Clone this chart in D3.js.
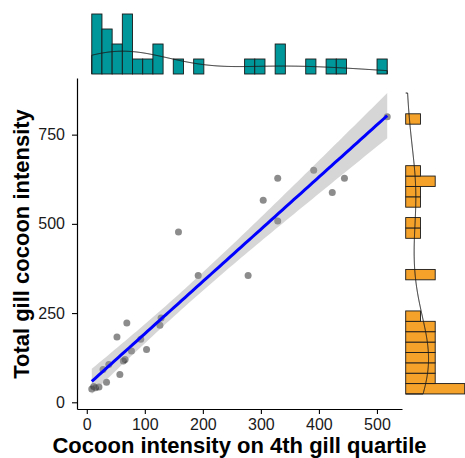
<!DOCTYPE html>
<html>
<head>
<meta charset="utf-8">
<script src="https://cdn.jsdelivr.net/npm/d3@7"></script>
<style>
  body { margin: 0; background: #fff; }
  text { font-family: "Liberation Sans", Arial, sans-serif; }
</style>
</head>
<body>
<svg id="chart" width="465" height="458"></svg>
<script>
// values, one entry per fish
const quartileIntensity = [8.6, 12, 15, 21, 28, 34, 38, 52, 57, 63, 66, 69, 77, 93, 103, 126, 128,
                           158, 192, 278, 304, 329, 329, 391, 423, 444, 517.7];
const totalIntensity    = [37, 44, 41, 43, 92, 56, 106, 183, 78, 116, 120, 222, 144, 177, 148, 216, 236,
                           477, 355, 355, 566, 628, 508, 650, 588, 628, 800];

const xTicks = [0, 100, 200, 300, 400, 500];
const yTicks = [0, 250, 500, 750];
const nBins = 29;

const xTitle = 'Cocoon intensity on 4th gill quartile';
const yTitle = 'Total gill cocoon intensity';

const svg = d3.select('#chart');
const n = quartileIntensity.length;
const pts = quartileIntensity.map((v, i) => ({ x: v, y: totalIntensity[i] }));

// linear fit + 95% confidence band (like geom_smooth(method = "lm"))
const xbar = d3.mean(quartileIntensity), ybar = d3.mean(totalIntensity);
const sxx = d3.sum(quartileIntensity, v => (v - xbar) ** 2);
const sxy = d3.sum(pts, p => (p.x - xbar) * (p.y - ybar));
const slope = sxy / sxx, icpt = ybar - slope * xbar;
const sse = d3.sum(pts, p => (p.y - icpt - slope * p.x) ** 2);
const sRes = Math.sqrt(sse / (n - 2));
const tCrit = 2.0595; // df = 25

const xExt = d3.extent(quartileIntensity);
const fit = d3.range(80).map(i => {
  const xv = xExt[0] + i * (xExt[1] - xExt[0]) / 79;
  const yv = icpt + slope * xv;
  const se = sRes * Math.sqrt(1 / n + (xv - xbar) ** 2 / sxx);
  return { x: xv, y: yv, lo: yv - tCrit * se, hi: yv + tCrit * se };
});

const yExt = d3.extent([...totalIntensity, ...fit.map(d => d.lo), ...fit.map(d => d.hi)]);
const expand = e => [e[0] - 0.05 * (e[1] - e[0]), e[1] + 0.05 * (e[1] - e[0])];

const x = d3.scaleLinear().domain(expand(xExt)).range([77, 402]);
const y = d3.scaleLinear().domain(expand(yExt)).range([409, 78]);

// gaussian kde, bandwidth as R's bw.nrd0
function kde(values, ext) {
  const sd = d3.deviation(values);
  const iqr = d3.quantile(values, 0.75) - d3.quantile(values, 0.25);
  const bw = 0.9 * Math.min(sd, iqr / 1.34) * Math.pow(values.length, -0.2);
  return d3.range(512).map(i => {
    const t = ext[0] + i * (ext[1] - ext[0]) / 511;
    const dens = d3.sum(values, v => Math.exp(-0.5 * ((t - v) / bw) ** 2)) /
                 (values.length * bw * Math.sqrt(2 * Math.PI));
    return { t, dens };
  });
}

function histo(values, ext) {
  const w = (ext[1] - ext[0]) / nBins;
  const bins = d3.bin().domain(ext)
    .thresholds(d3.range(1, nBins).map(i => ext[0] + i * w))(values);
  bins.forEach(b => { b.dens = b.length / (values.length * w); });
  return bins.filter(b => b.length > 0);
}

// ---- main panel ----
const main = svg.append('g');

main.selectAll('.pt')
  .data(pts)
  .enter().append('circle')
  .attr('class', 'pt')
  .attr('cx', d => x(d.x))
  .attr('cy', d => y(d.y))
  .attr('r', 3.5)
  .attr('fill', '#000')
  .attr('fill-opacity', 0.45);

main.append('path')
  .datum(fit)
  .attr('d', d3.area().x(d => x(d.x)).y0(d => y(d.lo)).y1(d => y(d.hi)))
  .attr('fill', '#999999')
  .attr('fill-opacity', 0.4);

main.append('path')
  .datum(fit)
  .attr('d', d3.line().x(d => x(d.x)).y(d => y(d.y)))
  .attr('fill', 'none')
  .attr('stroke', '#0000ff')
  .attr('stroke-width', 3);

const xAxis = main.append('g')
  .attr('transform', 'translate(0,409)')
  .call(d3.axisBottom(x).tickValues(xTicks).tickSize(5).tickSizeOuter(0).tickPadding(5));
const yAxis = main.append('g')
  .attr('transform', 'translate(77,0)')
  .call(d3.axisLeft(y).tickValues(yTicks).tickSize(5).tickSizeOuter(0).tickPadding(7));

[xAxis, yAxis].forEach(ax => {
  ax.select('.domain').attr('stroke', '#000').attr('stroke-width', 1.2);
  ax.selectAll('.tick line').attr('stroke', '#000').attr('stroke-width', 1.1);
  ax.selectAll('.tick text').attr('font-size', 16).attr('fill', '#1a1a1a')
    .style('font-family', '"Liberation Sans", Arial, sans-serif');
});

svg.append('text')
  .attr('x', 239.5).attr('y', 453)
  .attr('text-anchor', 'middle')
  .attr('font-size', 22).attr('font-weight', 'bold')
  .text(xTitle);

svg.append('text')
  .attr('transform', 'translate(29,244) rotate(-90)')
  .attr('text-anchor', 'middle')
  .attr('font-size', 22).attr('font-weight', 'bold')
  .text(yTitle);

// ---- top marginal: histogram of x ----
const xBins = histo(quartileIntensity, xExt);
const xDens = kde(quartileIntensity, xExt);
const topMax = Math.max(d3.max(xBins, b => b.dens), d3.max(xDens, d => d.dens));
const topY = d3.scaleLinear().domain([-0.05 * topMax, 1.05 * topMax]).range([77, 11]);

svg.append('g').selectAll('rect')
  .data(xBins)
  .enter().append('rect')
  .attr('x', d => x(d.x0))
  .attr('y', d => topY(d.dens))
  .attr('width', d => x(d.x1) - x(d.x0))
  .attr('height', d => topY(0) - topY(d.dens))
  .attr('fill', '#00979b')
  .attr('stroke', '#1a1a1a')
  .attr('stroke-width', 0.9);

svg.append('path')
  .datum([{ t: xExt[0], dens: 0 }, ...xDens, { t: xExt[1], dens: 0 }])
  .attr('d', d3.line().x(d => x(d.t)).y(d => topY(d.dens)))
  .attr('fill', 'none')
  .attr('stroke', '#1a1a1a')
  .attr('stroke-width', 1)
  .attr('stroke-linejoin', 'round');

// ---- right marginal: histogram of y ----
const yBins = histo(totalIntensity, yExt);
const yDens = kde(totalIntensity, yExt);
const sideMax = Math.max(d3.max(yBins, b => b.dens), d3.max(yDens, d => d.dens));
const sideX = d3.scaleLinear().domain([-0.05 * sideMax, 1.05 * sideMax]).range([402.75, 467.65]);

svg.append('g').selectAll('rect')
  .data(yBins)
  .enter().append('rect')
  .attr('x', sideX(0))
  .attr('y', d => y(d.x1))
  .attr('width', d => sideX(d.dens) - sideX(0))
  .attr('height', d => y(d.x0) - y(d.x1))
  .attr('fill', '#f5a22a')
  .attr('stroke', '#1a1a1a')
  .attr('stroke-width', 0.9);

svg.append('path')
  .datum([{ t: yExt[0], dens: 0 }, ...yDens, { t: yExt[1], dens: 0 }])
  .attr('d', d3.line().x(d => sideX(d.dens)).y(d => y(d.t)))
  .attr('fill', 'none')
  .attr('stroke', '#1a1a1a')
  .attr('stroke-width', 1)
  .attr('stroke-linejoin', 'round');
</script>
</body>
</html>
